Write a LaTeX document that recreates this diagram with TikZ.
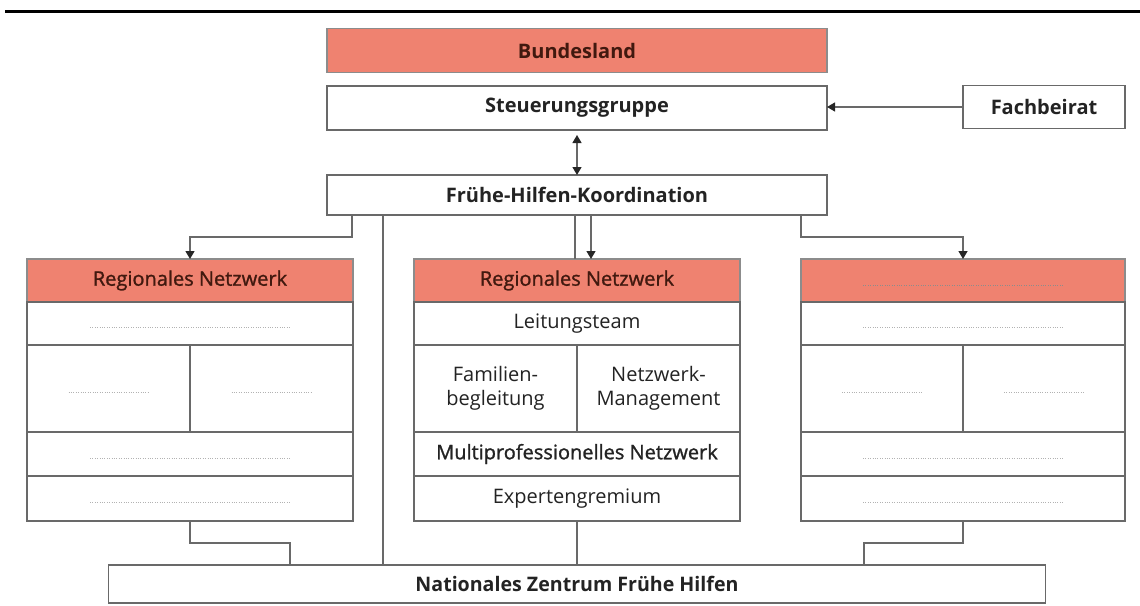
\documentclass[tikz,border=0pt]{standalone}
\usepackage{graphicx}
\usepackage{fontspec}
\setmainfont{Open Sans}
\newfontfamily\semib[FakeBold=1.2]{Open Sans}
\usetikzlibrary{arrows.meta}
\definecolor{salmon}{RGB}{239,130,112}
\definecolor{edge}{RGB}{105,105,105}
\definecolor{txt}{RGB}{35,35,35}
\definecolor{htxt}{RGB}{65,25,15}
\begin{document}
\begin{tikzpicture}[x=1pt,y=-1pt,
 box/.style={draw=edge,line width=1.3pt,fill=white,rectangle,inner sep=0pt,outer sep=0pt,text=txt,font=\fontsize{20}{24}\selectfont,align=center},
 hdr/.style={box,fill=salmon,text=htxt,draw=black!45},
 bf/.style={font=\fontsize{20}{24}\selectfont\bfseries},
 sb/.style={font=\fontsize{20}{24}\selectfont\semib},
 ph/.style={draw=black!30,line width=0.8pt,dash pattern=on 0.8pt off 1.6pt},
 con/.style={draw=edge,line width=1.3pt},
 tip/.tip={Triangle[length=8pt,width=9pt,color=black!85]},
 arr/.style={con,-tip},
 darr/.style={con,tip-tip}]
\useasboundingbox (0,0) rectangle (1140,605);
% top rule
\draw[line width=3pt] (5,11) -- (1140,11);
% top boxes
\node[hdr,bf,minimum width=500,minimum height=44] (bund) at (577,50.5) {Bundesland};
\node[box,bf,minimum width=500,minimum height=44] (steu) at (577,108) {Steuerungsgruppe};
\node[box,bf,minimum width=162,minimum height=43] (fach) at (1044,107) {Fachbeirat};
\node[box,bf,minimum width=500,minimum height=40] (koord) at (577,195) {Frühe-Hilfen-Koordination};
% left network
\node[hdr,sb,minimum width=326,minimum height=43] (lh) at (190,280.5) {Regionales Netzwerk};
\node[box,minimum width=326,minimum height=43] (l1) at (190,323.5) {};
\node[box,minimum width=163,minimum height=87] (la) at (108.5,388.5) {};
\node[box,minimum width=163,minimum height=87] (lb) at (271.5,388.5) {};
\node[box,minimum width=326,minimum height=44] (l3) at (190,454) {};
\node[box,minimum width=326,minimum height=45] (l4) at (190,498.5) {};
% middle network
\node[hdr,sb,minimum width=326,minimum height=43] (mh) at (577,280.5) {Regionales Netzwerk};
\node[box,minimum width=326,minimum height=43] (m1) at (577,323.5) {Leitungsteam};
\node[box,minimum width=163,minimum height=87] (ma) at (495.5,388.5) {Familien-\\begleitung};
\node[box,minimum width=163,minimum height=87] (mb) at (658.5,388.5) {Netzwerk-\\Management};
\node[box,sb,minimum width=326,minimum height=44] (m3) at (577,454) {Multiprofessionelles Netzwerk};
\node[box,minimum width=326,minimum height=45] (m4) at (577,498.5) {Expertengremium};
% right network
\node[hdr,minimum width=324,minimum height=43] (rh) at (963,280.5) {};
\node[box,minimum width=324,minimum height=43] (r1) at (963,323.5) {};
\node[box,minimum width=162,minimum height=87] (ra) at (882,388.5) {};
\node[box,minimum width=162,minimum height=87] (rb) at (1044,388.5) {};
\node[box,minimum width=324,minimum height=44] (r3) at (963,454) {};
\node[box,minimum width=324,minimum height=45] (r4) at (963,498.5) {};
% national centre
\node[box,bf,minimum width=937,minimum height=38] (nz) at (577,584) {\scalebox{0.98}[1]{Nationales Zentrum Frühe Hilfen}};
% placeholders
\foreach \n in {l1,l3,l4,r1,r3,r4}
  \draw[ph] ([xshift=-100pt,yshift=-4pt]\n.center) -- ([xshift=100pt,yshift=-4pt]\n.center);
\draw[ph,draw=black!45] ([xshift=-100pt,yshift=-5pt]rh.center) -- ([xshift=100pt,yshift=-5pt]rh.center);
\foreach \n in {la,lb,ra,rb}
  \draw[ph] ([xshift=-40pt,yshift=-4pt]\n.center) -- ([xshift=40pt,yshift=-4pt]\n.center);
% connectors
\draw[arr] (fach.west) -- (fach.west -| steu.east);
\draw[darr] ([yshift=-5pt]steu.south) -- (koord.north);
\coordinate (kl) at (352,215);
\coordinate (kc) at (383,215);
\coordinate (km) at (575,215);
\coordinate (kn) at (591,215);
\coordinate (kr) at (801,215);
\draw[arr] (kl) |- (190,237) -- (lh.north);
\draw[arr] (kr) |- (963,237) -- (rh.north);
\draw[con] (km) -- (575,259);
\draw[arr] (kn) -- (591,259);
\draw[con] (kc) -- (383,565);
\draw[con] (l4.south) |- (290,543) -- (290,565);
\draw[con] (r4.south) |- (864,543) -- (864,565);
\draw[con] (m4.south) -- (nz.north);
\end{tikzpicture}
\end{document}
